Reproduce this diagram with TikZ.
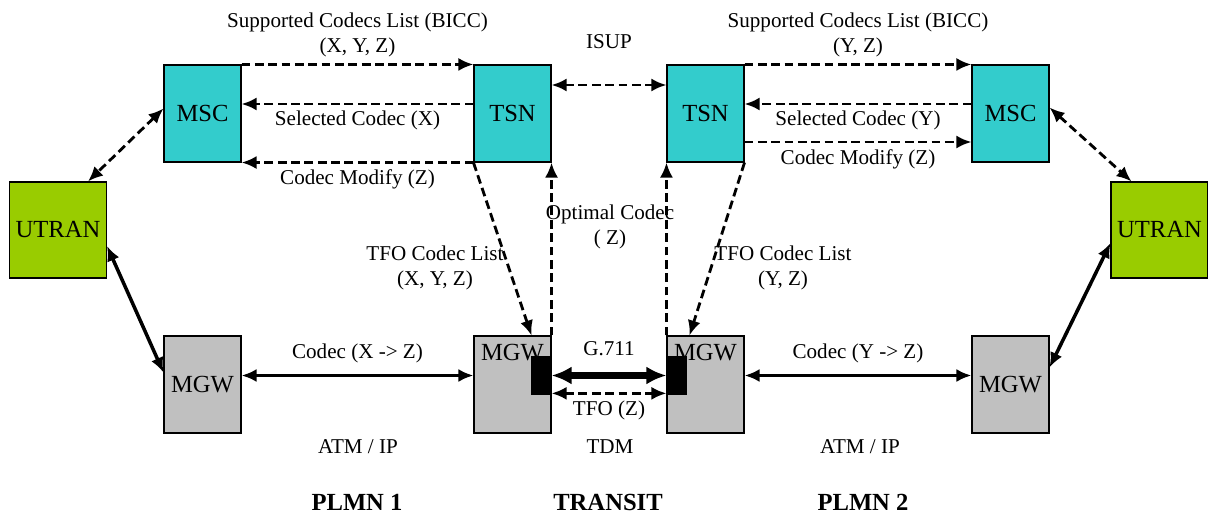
\documentclass[tikz,border=0pt]{standalone}
\usepackage{fontspec}
\setmainfont{Liberation Serif}
\usetikzlibrary{shapes,arrows.meta}

\definecolor{msccol}{RGB}{51,204,204}
\definecolor{gwcol}{RGB}{192,192,192}
\definecolor{rancol}{RGB}{153,204,0}

\begin{document}
\begin{tikzpicture}[node distance=5.42cm, >={Latex[length=3mm,width=2.6mm]}, font=\fontsize{12}{14.5}\selectfont]
     		%define block styles
     		\tikzset{
     			ctrl/.style={rectangle, minimum width=1.54cm, minimum height=1.94cm, inner sep=1pt, draw=black, line width=0.6pt, fill=msccol, font=\fontsize{14}{16}\selectfont},
     			gw/.style={rectangle, minimum width=1.54cm, minimum height=1.94cm, inner sep=1pt, draw=black, line width=0.6pt, fill=gwcol, font=\fontsize{14}{16}\selectfont},
     			gwtop/.style={text height=0.44cm, text depth=1.42cm},
     			ran/.style={rectangle, minimum width=1.94cm, minimum height=1.92cm, inner sep=1pt, draw=black, line width=0.6pt, fill=rancol, font=\fontsize{14}{16}\selectfont},
     			port/.style={rectangle, minimum width=0.4cm, minimum height=0.78cm, inner sep=0pt, fill=black},
     			region/.style={font=\fontsize{14}{16}\selectfont\bfseries},
     			sig/.style={line width=1.6pt, dash pattern=on 5pt off 2.6pt},
     			bearer/.style={line width=2pt},
     			trunk/.style={line width=3.6pt, >={Latex[length=4mm,width=3.6mm]}},}
     		\useasboundingbox (0,0) rectangle (24.16,-10.34);
     		%define nodes
     		\node[ctrl](msc1) at (4.05,-2.27){MSC};
     		\node[ctrl, right of=msc1, node distance=6.2cm](tsn1){TSN};
     		\node[ctrl, right of=tsn1, node distance=3.86cm](tsn2){TSN};
     		\node[ctrl, right of=tsn2, node distance=6.1cm](msc2){MSC};
     		\node[gw, below of=msc1](mgw1){MGW};
     		\node[gw, gwtop, below of=tsn1](mgw2){MGW};
     		\node[gw, gwtop, below of=tsn2](mgw3){MGW};
     		\node[gw, below of=msc2](mgw4){MGW};
     		\node[ran](utran1) at (1.16,-4.6){UTRAN};
     		\node[ran](utran2) at (23.19,-4.6){UTRAN};
     		\node[port, anchor=east](port2) at ([yshift=0.18cm]mgw2.east){};
     		\node[port, anchor=west](port3) at ([yshift=0.18cm]mgw3.west){};
     		%signalling
     		\draw[sig, ->] (msc1.north east) -- node[above, align=center](sup1){Supported Codecs List (BICC)\\(X, Y, Z)} (tsn1.north west);
     		\draw[sig, ->] ([yshift=0.19cm]tsn1.west) -- node[below](sel1){Selected Codec (X)} ([yshift=0.19cm]msc1.east);
     		\draw[sig, ->] (tsn1.south west) -- node[below](mod1){Codec Modify (Z)} (msc1.south east);
     		\draw[sig, <->] ([yshift=0.57cm]tsn1.east) -- node[above=0.58cm](isup){ISUP} ([yshift=0.57cm]tsn2.west);
     		\draw[sig, ->] (tsn2.north east) -- node[above, align=center](sup2){Supported Codecs List (BICC)\\(Y, Z)} (msc2.north west);
     		\draw[sig, ->] ([yshift=0.19cm]msc2.west) -- node[below](sel2){Selected Codec (Y)} ([yshift=0.19cm]tsn2.east);
     		\draw[sig, ->] ([yshift=-0.57cm]tsn2.east) -- node[below](mod2){Codec Modify (Z)} ([yshift=-0.57cm]msc2.west);
     		\draw[sig, <->] ([yshift=0.1cm]msc1.west) -- ([xshift=0.6cm]utran1.north);
     		\draw[sig, <->] ([yshift=0.12cm]msc2.east) -- ([xshift=-0.56cm]utran2.north);
     		\draw[sig, ->] (tsn1.south west) -- ([xshift=0.38cm]mgw2.north);
     		\draw[sig, ->] (tsn2.south east) -- ([xshift=-0.32cm]mgw3.north);
     		\draw[sig, ->] (mgw2.north east) -- (tsn1.south east);
     		\draw[sig, ->] (mgw3.north west) -- (tsn2.south west);
     		\node[align=center](tfo1) at (8.7,-5.36){TFO Codec List\\(X, Y, Z)};
     		\node[align=center](optimal) at (12.2,-4.54){Optimal Codec\\( Z)};
     		\node[align=center](tfo2) at (15.66,-5.36){TFO Codec List\\(Y, Z)};
     		%bearers
     		\draw[bearer, <->] ([yshift=-0.32cm]utran1.east) -- ([yshift=0.24cm]mgw1.west);
     		\draw[bearer, <->] ([yshift=-0.26cm]utran2.west) -- ([yshift=0.34cm]mgw4.east);
     		\draw[bearer, <->] ([yshift=0.18cm]mgw1.east) -- node[above=1mm](codec1){Codec (X -> Z)} ([yshift=0.18cm]mgw2.west);
     		\draw[bearer, <->] ([yshift=0.18cm]mgw3.east) -- node[above=1mm](codec2){Codec (Y -> Z)} ([yshift=0.18cm]mgw4.west);
     		\draw[trunk, <->] (port2.east) -- node[above=0.22cm](g711){G.711} (port3.west);
     		\draw[sig, <->] ([yshift=0.04cm]port2.south east) -- node[below](tfoz){TFO (Z)} ([yshift=0.04cm]port3.south west);
     		%networks
     		\node(net1) at (7.16,-8.94){ATM / IP};
     		\node(net2) at (12.2,-8.94){TDM};
     		\node(net3) at (17.2,-8.94){ATM / IP};
     		\node[region](plmn1) at (7.14,-10.04){PLMN 1};
     		\node[region](transit) at (12.16,-10.04){TRANSIT};
     		\node[region](plmn2) at (17.26,-10.04){PLMN 2};
     	\end{tikzpicture}
\end{document}
